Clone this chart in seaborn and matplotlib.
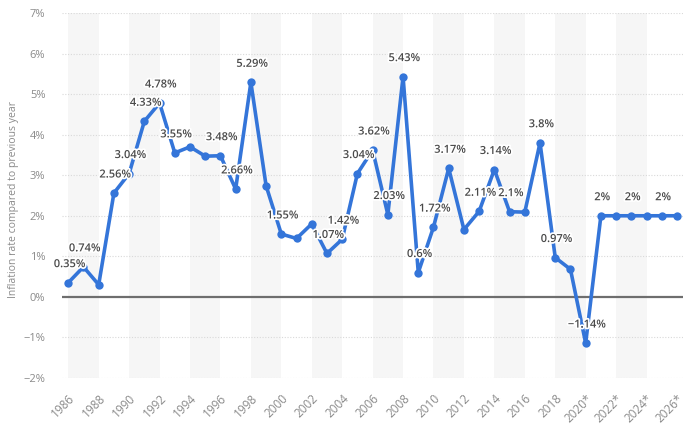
import matplotlib
matplotlib.use("Agg")
import matplotlib.pyplot as plt
import matplotlib.patheffects as pe
import seaborn as sns
import pandas as pd

years = list(range(1986, 2027))
values = [0.35, 0.74, 0.3, 2.56, 3.04, 4.33, 4.78, 3.55, 3.7, 3.47, 3.48, 2.66, 5.29, 2.74,
          1.55, 1.44, 1.8, 1.07, 1.42, 3.04, 3.62, 2.03, 5.43, 0.6, 1.72, 3.17, 1.66, 2.11,
          3.14, 2.1, 2.09, 3.8, 0.97, 0.68, -1.14, 2, 2, 2, 2, 2, 2]
labelled_years = [1986, 1987, 1989, 1990, 1991, 1992, 1993, 1996, 1997, 1998, 2000, 2003,
                  2004, 2005, 2006, 2007, 2008, 2009, 2010, 2011, 2013, 2014, 2015, 2017,
                  2018, 2020, 2021, 2023, 2025]
tick_years = list(range(1986, 2027, 2))
tick_labels = [str(y) if y < 2020 else f"{y}*" for y in tick_years]
y_ticks = [-2, -1, 0, 1, 2, 3, 4, 5, 6, 7]

df = pd.DataFrame({"year": years, "rate": values})

sns.set_style("white")
plt.rcParams['font.family'] = ['Open Sans', 'DejaVu Sans']

fig = plt.figure(figsize=(7, 4.33), dpi=100)
ax = fig.add_axes([0.0886, 0.127, 0.887, 0.843])

# alternating background bands
for start in range(1986, 2026, 4):
    ax.axvspan(start, start + 2, color="#f6f6f6", zorder=0, lw=0)

for y in y_ticks:
    if y != 0:
        ax.axhline(y, color="#d9d9d9", lw=0.8, ls=(0, (1, 1.5)), zorder=1)
ax.axhline(0, color="#6e6e6e", lw=1.6, zorder=2)

sns.lineplot(data=df, x="year", y="rate", ax=ax, color="#3475d9", lw=2.6,
             marker="o", markersize=6, markeredgewidth=0, zorder=3)

for yr, v in zip(years, values):
    if yr in labelled_years:
        txt = f"{v:g}%".replace("-", "\u2212")
        ax.annotate(txt, (yr, v), xytext=(1, 13), textcoords="offset points",
                    ha="center", va="center", fontsize=8, fontweight="semibold",
                    color="#4a4a4a", zorder=4,
                    path_effects=[pe.withStroke(linewidth=2.5, foreground="white")])

ax.set_xlim(1985.59, 2026.39)
ax.set_ylim(-2, 7)
ax.set_yticks(y_ticks)
ax.set_yticklabels([f"{y}%".replace("-", "\u2212") for y in y_ticks])
ax.set_xticks(tick_years)
ax.set_xticklabels(tick_labels, rotation=45, ha="right", rotation_mode="anchor")
ax.tick_params(axis="both", length=0, labelcolor="#8a8a8a")
ax.tick_params(axis="y", pad=12, labelsize=8)
ax.tick_params(axis="x", pad=10, labelsize=8.5)
ax.set_xlabel("")
ax.set_ylabel("Inflation rate compared to previous year", fontsize=7.5, color="#8a8a8a")
ax.yaxis.set_label_coords(-0.069, 0.49)
sns.despine(ax=ax, left=True, bottom=True)

fig.savefig("out.png", dpi=100)
